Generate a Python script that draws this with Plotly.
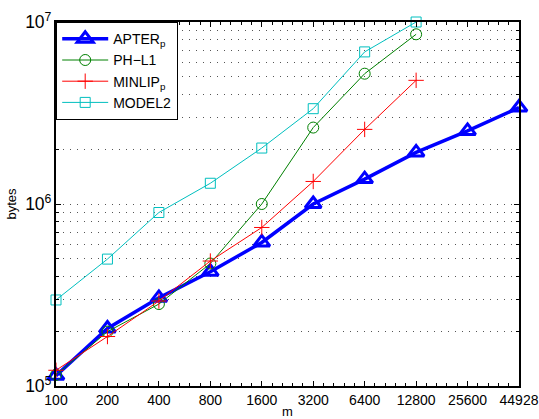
import plotly.graph_objects as go

m_labels = ["100", "200", "400", "800", "1600", "3200", "6400", "12800", "25600", "44928"]
apter = [1.14e5, 2.07e5, 3.05e5, 4.24e5, 6.15e5, 1.0e6, 1.37e6, 1.92e6, 2.52e6, 3.39e6]
ph_l1 = [1.15e5, 1.99e5, 2.82e5, 4.71e5, 1.0e6, 2.63e6, 5.2e6, 8.56e6]
minlip = [1.22e5, 1.87e5, 2.93e5, 4.86e5, 7.43e5, 1.33e6, 2.57e6, 4.78e6]
model2 = [2.97e5, 4.98e5, 8.98e5, 1.30e6, 2.03e6, 3.34e6, 6.85e6, 1.0e7]

FONT = "Liberation Sans, Arial, Helvetica, sans-serif"

fig = go.Figure()

def idx(vals):
    return list(range(len(vals)))

fig.add_trace(go.Scatter(x=idx(apter), y=apter, name="APTER<sub>p</sub>", mode="lines+markers",
                         line=dict(color="#0000FF", width=3.5),
                         marker=dict(symbol="triangle-up-open", size=14, color="#0000FF", line=dict(width=3, color="#0000FF")),
                         cliponaxis=False))
fig.add_trace(go.Scatter(x=idx(ph_l1), y=ph_l1, name="PH\u2212L1", mode="lines+markers",
                         line=dict(color="#008000", width=1),
                         marker=dict(symbol="circle-open", size=11, color="#008000", line=dict(width=1, color="#008000")),
                         cliponaxis=False))
fig.add_trace(go.Scatter(x=idx(minlip), y=minlip, name="MINLIP<sub>p</sub>", mode="lines+markers",
                         line=dict(color="#FF0000", width=1),
                         marker=dict(symbol="cross-thin-open", size=11, color="#FF0000", line=dict(width=1, color="#FF0000")),
                         cliponaxis=False))
fig.add_trace(go.Scatter(x=idx(model2), y=model2, name="MODEL2", mode="lines+markers",
                         line=dict(color="#00BFBF", width=1),
                         marker=dict(symbol="square-open", size=10, color="#00BFBF", line=dict(width=1, color="#00BFBF")),
                         cliponaxis=False))

fig.update_layout(
    width=539, height=419,
    margin=dict(l=56, r=20, t=22, b=33),
    paper_bgcolor="white", plot_bgcolor="white",
    font=dict(family=FONT, size=14, color="black"),
    showlegend=True,
    legend=dict(x=0, y=1, xanchor="left", yanchor="top",
                bgcolor="white", bordercolor="black", borderwidth=1.2,
                font=dict(size=14, family=FONT), tracegroupgap=0,
                itemwidth=46),
    xaxis=dict(
        range=[0, 9], tickmode="array", tickvals=list(range(len(m_labels))), ticktext=m_labels,
        showgrid=False, zeroline=False, automargin=False,
        showline=True, linecolor="black", linewidth=1.5, mirror="ticks",
        ticks="inside", ticklen=5, tickcolor="black",
        minor=dict(ticks="inside", ticklen=3, dtick=0.2, tick0=0, tickcolor="black", showgrid=False),
        title=dict(text="m", font=dict(size=13), standoff=6),
        tickfont=dict(size=14),
    ),
    yaxis=dict(
        type="log", range=[5, 7], dtick=1, exponentformat="power", automargin=False,
        showgrid=True, gridcolor="#555555", griddash="1px,6px", gridwidth=1,
        zeroline=False,
        showline=True, linecolor="black", linewidth=1.5, mirror="ticks",
        ticks="inside", ticklen=5, tickcolor="black",
        minor=dict(ticks="inside", ticklen=3, dtick="D1", tickcolor="black",
                   showgrid=True, gridcolor="#555555", griddash="1px,6px", gridwidth=1),
        title=dict(text="bytes", font=dict(size=13), standoff=6),
        tickfont=dict(size=14),
    ),
)

fig.write_html("out.html",
               config={"displayModeBar": False},
               post_script="document.body.style.margin='0';document.body.style.overflow='hidden';")
